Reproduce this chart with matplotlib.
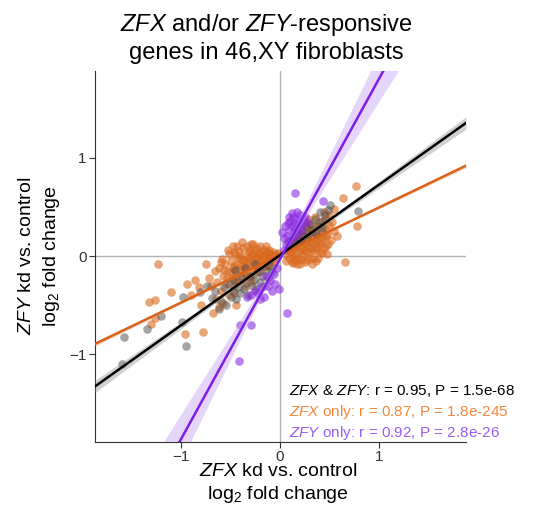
import numpy as np
import matplotlib
matplotlib.use("Agg")
import matplotlib.pyplot as plt

plt.rcParams["font.family"] = ["Liberation Sans", "DejaVu Sans"]
plt.rcParams["mathtext.fontset"] = "custom"
plt.rcParams["mathtext.rm"] = "Liberation Sans"
plt.rcParams["mathtext.it"] = "Liberation Sans:italic"

# ZFX only (orange): x = ZFX kd log2FC, y = ZFY kd log2FC
zfx_only_x = [-1.23, -1.32, -1.26, -1.26, -1.30, -1.10, -0.96, -0.94, -0.86, -0.78, -0.68, -0.75,
              -0.59, -0.29, -0.90, -0.82, -0.72, -0.70, -0.66, -0.64, -0.62, -0.60, -0.58, -0.56,
              -0.55, -0.53, -0.52, -0.50, -0.49, -0.48, -0.46, -0.45, -0.44, -0.43, -0.42, -0.41,
              -0.40, -0.39, -0.38, -0.37, -0.36, -0.35, -0.34, -0.33, -0.32, -0.31, -0.30, -0.29,
              -0.28, -0.27, -0.26, -0.25, -0.24, -0.23, -0.22, -0.21, -0.20, -0.19, -0.18, -0.17,
              -0.16, -0.15, -0.14, -0.13, -0.12, -0.11, -0.10, -0.09, -0.08, -0.06, -0.05, -0.04,
              -0.03, -0.02, -0.65, -0.58, -0.47, -0.44, -0.62, -0.80, -0.38, -0.48, -0.53, -0.33,
              -0.27, -0.20, -0.14,
              -0.42, -0.40, -0.36, -0.34, -0.31, -0.30, -0.28, -0.26, -0.25, -0.23, -0.22, -0.20,
              -0.18, -0.17, -0.15, -0.13, -0.12, -0.11, -0.10, -0.09, -0.07, -0.46, -0.50, -0.54,
              -0.57, -0.44, -0.39, -0.37, -0.33, -0.29, -0.60, -0.52, -0.47, -0.43,
              0.77, 0.78, 0.66, 0.64, 0.55, 0.50, 0.45, 0.05, 0.06, 0.08, 0.09, 0.10, 0.11, 0.12,
              0.13, 0.14, 0.15, 0.16, 0.17, 0.18, 0.19, 0.20, 0.21, 0.22, 0.23, 0.24, 0.25, 0.26,
              0.27, 0.28, 0.29, 0.30, 0.31, 0.32, 0.33, 0.34, 0.35, 0.36, 0.37, 0.38, 0.39, 0.40,
              0.41, 0.42, 0.43, 0.45, 0.46, 0.48, 0.50, 0.52, 0.55, 0.58, 0.53, 0.44, 0.35, 0.28,
              0.20, 0.13, 0.38, 0.47, 0.32, 0.24, 0.16,
              0.10, 0.12, 0.14, 0.15, 0.17, 0.18, 0.20, 0.21, 0.23, 0.24, 0.26, 0.27, 0.28, 0.29,
              0.31, 0.32, 0.33, 0.34, 0.36, 0.37, 0.39, 0.40, 0.42, 0.44, 0.46, 0.49, 0.26, 0.30,
              0.19, 0.16]
zfx_only_y = [-0.08, -0.47, -0.45, -0.63, -0.69, -0.37, -0.79, -0.28, -0.24, -0.77, -0.58, -0.08,
              -0.03, 0.12, -0.40, -0.31, -0.22, -0.30, -0.15, -0.26, -0.12, -0.36, -0.20, -0.08,
              -0.28, -0.15, -0.40, -0.05, -0.22, -0.12, -0.30, 0.02, -0.18, -0.08, -0.25, 0.05,
              -0.14, -0.03, -0.20, 0.08, -0.10, -0.30, 0.00, -0.16, -0.06, 0.04, -0.22, -0.12,
              0.02, -0.08, -0.18, 0.06, -0.02, -0.12, 0.03, -0.06, -0.15, 0.00, -0.08, 0.05,
              -0.03, -0.10, 0.02, -0.05, 0.04, -0.02, -0.08, 0.01, -0.03, 0.00, -0.05, 0.02,
              -0.01, 0.03, -0.44, -0.48, -0.38, -0.50, -0.52, -0.50, 0.14, 0.10, 0.06, 0.10,
              0.12, 0.10, 0.10,
              -0.02, 0.00, -0.04, -0.08, -0.02, 0.06, -0.04, 0.00, -0.12, 0.08, -0.04, 0.02,
              -0.02, -0.10, 0.06, 0.00, -0.10, 0.06, 0.02, -0.04, 0.04, -0.10, -0.16, -0.22,
              -0.14, -0.26, -0.10, -0.16, -0.20, -0.26, -0.06, 0.02, 0.04, 0.10,
              0.71, 0.30, -0.06, 0.59, 0.48, 0.42, 0.38, 0.02, -0.05, 0.06, -0.02, 0.12, 0.03, -0.06,
              0.08, 0.18, 0.00, 0.10, -0.08, 0.05, 0.15, 0.22, -0.03, 0.08, 0.28, 0.13, -0.06, 0.04,
              0.19, 0.10, 0.33, -0.02, 0.14, 0.24, 0.06, 0.30, 0.16, -0.05, 0.09, 0.22, 0.35, 0.12,
              0.26, 0.03, 0.18, 0.28, 0.10, 0.22, 0.32, 0.16, 0.25, 0.20, 0.35, 0.45, 0.40, 0.38,
              -0.08, -0.07, -0.02, 0.02, -0.08, 0.34, 0.28,
              0.05, 0.00, 0.08, -0.04, 0.12, -0.02, 0.06, 0.14, 0.00, 0.06, 0.12, -0.04, 0.16, 0.04,
              0.08, 0.18, -0.02, 0.12, 0.06, 0.20, 0.14, 0.04, 0.16, 0.08, 0.20, 0.12, 0.24, 0.26,
              0.20, 0.15]

# ZFX & ZFY (gray)
both_x = [-1.58, -1.60, -1.34, -1.20, -0.98, -0.99, -0.95, -0.81, -0.69, -0.62, -0.60, -0.57,
          -0.55, -0.52, -0.50, -0.48, -0.46, -0.44, -0.42, -0.40, -0.38, -0.36, -0.34, -0.32,
          -0.30, -0.28, -0.26, -0.24, -0.22, -0.20, -0.18, -0.16, -0.14, -0.12, -0.10, -0.08,
          -0.74, -0.66, -0.45, -0.35, -0.25,
          0.79, 0.51, 0.49, 0.45, 0.42, 0.40, 0.38, 0.35, 0.32, 0.30, 0.28, 0.26, 0.24, 0.22,
          0.20, 0.18, 0.15, 0.12, 0.10, 0.08, 0.36, 0.42]
both_y = [-0.82, -1.10, -0.74, -0.61, -0.42, -0.67, -0.91, -0.37, -0.43, -0.54, -0.46, -0.32,
          -0.50, -0.28, -0.42, -0.36, -0.24, -0.44, -0.31, -0.38, -0.22, -0.34, -0.27, -0.40,
          -0.20, -0.30, -0.24, -0.34, -0.16, -0.26, -0.20, -0.30, -0.14, -0.22, -0.10, -0.16,
          -0.30, -0.36, -0.14, -0.12, -0.08,
          0.46, 0.52, 0.47, 0.42, 0.36, 0.45, 0.30, 0.38, 0.26, 0.33, 0.22, 0.30, 0.20, 0.26,
          0.16, 0.22, 0.14, 0.18, 0.10, 0.14, 0.22, 0.28]

# ZFY only (purple)
zfy_only_x = [0.15, 0.43, 0.02, -0.01, 0.07, -0.41, -0.40, -0.29, -0.16, -0.29, -0.22, -0.19,
              -0.12, -0.10, -0.08, -0.06, -0.14, -0.05, -0.03, -0.25, -0.20, -0.33,
              0.05, 0.07, 0.08, 0.09, 0.10, 0.11, 0.12, 0.13, 0.14, 0.15, 0.16, 0.17, 0.18, 0.19,
              0.20, 0.21, 0.22, 0.23, 0.06, 0.04, 0.25, 0.12, 0.17, 0.09, 0.04, 0.27]
zfy_only_y = [0.64, 0.56, 0.24, -0.34, -0.58, -1.07, -0.70, -0.70, -0.42, -0.40, -0.38, -0.32,
              -0.30, -0.24, -0.36, -0.18, -0.20, -0.28, -0.12, -0.36, -0.44, -0.42,
              0.30, 0.20, 0.34, 0.26, 0.36, 0.16, 0.30, 0.40, 0.24, 0.33, 0.20, 0.38, 0.28, 0.34,
              0.42, 0.25, 0.32, 0.38, 0.12, 0.06, 0.40, 0.44, 0.45, 0.40, 0.18, 0.35]

# regression fits: both, ZFX only, ZFY only
fit_slope = [0.714, 0.483, 1.83]
fit_intercept = [0.01, 0.01, -0.03]
band_hw0 = [0.012, 0.006, 0.03]
band_hw_slope = [0.033, 0.011, 0.24]

pt_colors = ["#4d4d4d", "#d9691f", "#8a2be2"]
line_colors = ["black", "#d9621a", "#7a1fe6"]
band_colors = ["#9a9a9a", "#e8a070", "#c9a3f5"]
label_colors = ["black", "#f0883e", "#9b5cf5"]
label_text = [r"$\mathit{ZFX}$ & $\mathit{ZFY}$: r = 0.95, P = 1.5e-68",
              r"$\mathit{ZFX}$ only: r = 0.87, P = 1.8e-245",
              r"$\mathit{ZFY}$ only: r = 0.92, P = 2.8e-26"]

fig = plt.figure(figsize=(5.48, 5.29), dpi=100)
ax = fig.add_axes([95/548, 1 - 442/529, 371/548, 371/529])
xlim = (-1.87, 1.88)
ylim = (-1.89, 1.88)

ax.axhline(0, color="#b3b3b3", lw=1, zorder=0)
ax.axvline(0, color="#b3b3b3", lw=1, zorder=0)

ax.scatter(zfx_only_x, zfx_only_y, s=38, color=pt_colors[1], alpha=0.6, lw=0, zorder=1)
ax.scatter(both_x, both_y, s=38, color=pt_colors[0], alpha=0.5, lw=0, zorder=2)
ax.scatter(zfy_only_x, zfy_only_y, s=38, color=pt_colors[2], alpha=0.6, lw=0, zorder=3)

xs = np.linspace(xlim[0], xlim[1], 200)
for i in [1, 0, 2]:
    yfit = fit_slope[i] * xs + fit_intercept[i]
    hw = np.sqrt(band_hw0[i]**2 + (band_hw_slope[i] * xs)**2)
    ax.fill_between(xs, yfit - hw, yfit + hw, color=band_colors[i], alpha=0.45, lw=0, zorder=4)
    ax.plot(xs, yfit, color=line_colors[i], lw=1.8, zorder=5)

for i in range(3):
    ax.text(0.522, 0.127 - i * 0.057, label_text[i], transform=ax.transAxes, color=label_colors[i],
            fontsize=11, va="baseline", ha="left", zorder=6)

ax.set_xlim(xlim)
ax.set_ylim(ylim)
ax.set_xticks([-1, 0, 1])
ax.set_yticks([-1, 0, 1])
ax.set_xticklabels(["\u22121", "0", "1"])
ax.set_yticklabels(["\u22121", "0", "1"])
ax.tick_params(labelsize=11, labelcolor="#333333", length=4, color="#333333", width=0.8, pad=2)
for s in ["top", "right"]:
    ax.spines[s].set_visible(False)
for s in ["left", "bottom"]:
    ax.spines[s].set_color("#333333")
    ax.spines[s].set_linewidth(0.8)

fig.text(266/548, 1 - 31/529, r"$\mathit{ZFX}$ and/or $\mathit{ZFY}$-responsive",
         ha="center", va="baseline", fontsize=17)
fig.text(266/548, 1 - 59/529, "genes in 46,XY fibroblasts", ha="center", va="baseline", fontsize=17)

fig.text(278/548, 1 - 476/529, r"$\mathit{ZFX}$ kd vs. control", ha="center", va="baseline", fontsize=14)
fig.text(278/548, 1 - 499/529, r"log$_2$ fold change", ha="center", va="baseline", fontsize=14)
fig.text(27/548, 1 - 256/529, r"$\mathit{ZFY}$ kd vs. control", ha="center", va="center",
         rotation=90, fontsize=14)
fig.text(52/548, 1 - 256/529, r"log$_2$ fold change", ha="center", va="center",
         rotation=90, fontsize=14)

fig.savefig("out.png", dpi=100)
